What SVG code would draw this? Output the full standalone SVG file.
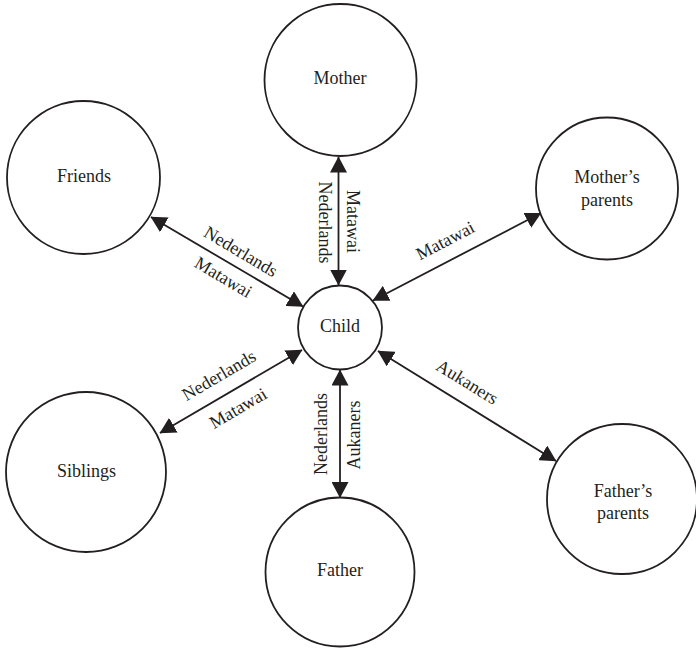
<svg xmlns="http://www.w3.org/2000/svg" width="696" height="649" viewBox="0 0 696 649">
<style>
.node circle{fill:#fff;stroke:#231f20;stroke-width:1.8}
text{font-family:"Liberation Serif","Times New Roman",serif;font-size:18px;fill:#231f20;text-anchor:middle}
.edge{stroke:#231f20;stroke-width:1.8;fill:none;marker-start:url(#ah);marker-end:url(#ah)}
</style>
<defs>
<marker id="ah" markerUnits="userSpaceOnUse" markerWidth="16" markerHeight="17" viewBox="0 0 16 17" refX="15.5" refY="8.5" orient="auto-start-reverse">
<path d="M0,0 L16,8.5 L0,17 Z" fill="#231f20"/>
</marker>
</defs>
<rect width="696" height="649" fill="#fff"/>
<g id="connectors">
<line class="edge" x1="338.5" y1="157" x2="338.5" y2="285"/>
<line class="edge" x1="151" y1="217" x2="303" y2="306.5"/>
<line class="edge" x1="373" y1="300.5" x2="541" y2="213"/>
<line class="edge" x1="160" y1="433" x2="302" y2="350"/>
<line class="edge" x1="340" y1="370" x2="340" y2="497.5"/>
<line class="edge" x1="378" y1="351" x2="556" y2="461"/>
<text transform="translate(319,222.5) rotate(90)">Nederlands</text>
<text transform="translate(347,221.5) rotate(90)">Matawai</text>
<g transform="translate(231.9,264.8) rotate(30.6)">
<text x="1" y="-10">Nederlands</text>
<text x="-1" y="21">Matawai</text>
</g>
<g transform="translate(454.5,258.3) rotate(-27.6)">
<text x="0" y="-14">Matawai</text>
</g>
<g transform="translate(229,392.6) rotate(-30.3)">
<text x="0" y="-14">Nederlands</text>
<text x="0" y="24">Matawai</text>
</g>
<g transform="translate(456.5,399.5) rotate(31.7)">
<text x="0" y="-14.5">Aukaners</text>
</g>
<text transform="translate(327,434) rotate(-90)">Nederlands</text>
<text transform="translate(360,435) rotate(-90)">Aukaners</text>
</g>
<g id="mother" class="node"><circle cx="340.5" cy="80" r="76"/><text x="340" y="84">Mother</text></g>
<g id="friends" class="node"><circle cx="83.5" cy="177.5" r="76.5"/><text x="84" y="181.5">Friends</text></g>
<g id="mothers-parents" class="node"><circle cx="607" cy="188.5" r="71"/><text x="607" y="183">Mother’s</text><text x="607" y="206">parents</text></g>
<g id="child" class="node"><circle cx="340" cy="327.5" r="42"/><text x="340" y="331.5">Child</text></g>
<g id="siblings" class="node"><circle cx="86" cy="472" r="80"/><text x="86.5" y="477">Siblings</text></g>
<g id="father" class="node"><circle cx="340" cy="572" r="74.5"/><text x="340" y="576">Father</text></g>
<g id="fathers-parents" class="node"><circle cx="622" cy="499" r="75"/><text x="623" y="496.5">Father’s</text><text x="623" y="519">parents</text></g>
</svg>
